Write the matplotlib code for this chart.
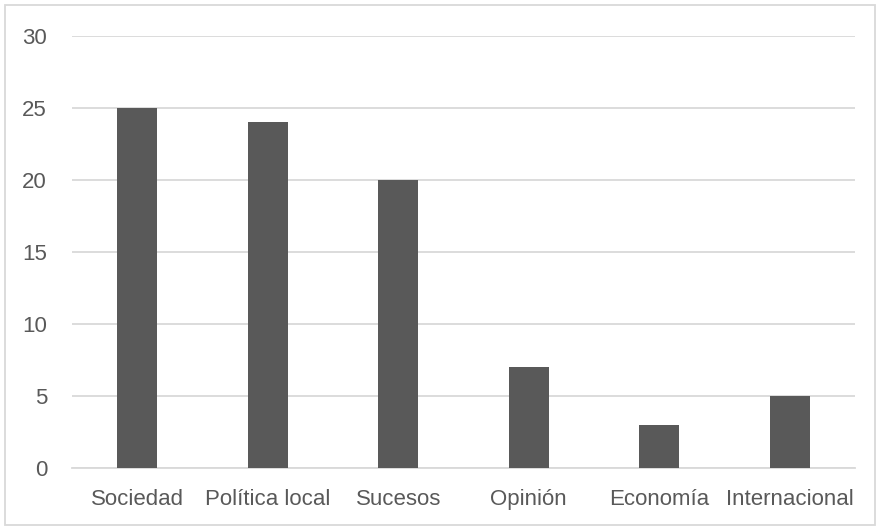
import matplotlib.pyplot as plt
from matplotlib.patches import Rectangle

categorias = ['Sociedad', 'Política local', 'Sucesos', 'Opinión', 'Economía', 'Internacional']
valores = [25, 24, 20, 7, 3, 5]
ticks_y = [0, 5, 10, 15, 20, 25, 30]

plt.rcParams['font.family'] = ['Liberation Sans', 'DejaVu Sans']

fig = plt.figure(figsize=(8.8, 5.3), dpi=100)
ax = fig.add_axes([72 / 880, 62 / 530, 783 / 880, 432 / 530])

x = list(range(len(categorias)))
ax.bar(x, valores, width=0.31, color='#595959', zorder=3)

ax.set_xlim(-0.5, len(categorias) - 0.5)
ax.set_ylim(0, 30)
ax.set_yticks(ticks_y)
ax.set_xticks(x)
ax.set_xticklabels(categorias)

ax.grid(axis='y', color='#d9d9d9', linewidth=1.3, zorder=0)
for s in ['top', 'right', 'left']:
    ax.spines[s].set_visible(False)
ax.spines['bottom'].set_color('#d9d9d9')
ax.spines['bottom'].set_linewidth(1.3)

ax.tick_params(axis='both', length=0, labelsize=16, labelcolor='#595959')
ax.tick_params(axis='y', pad=18)
ax.tick_params(axis='x', pad=15)

# marco exterior
fig.patches.append(Rectangle((5 / 880, 5 / 530), 870 / 880, 520 / 530,
                             transform=fig.transFigure, fill=False,
                             edgecolor='#d9d9d9', linewidth=1.3))

fig.savefig('out.png', dpi=100)
